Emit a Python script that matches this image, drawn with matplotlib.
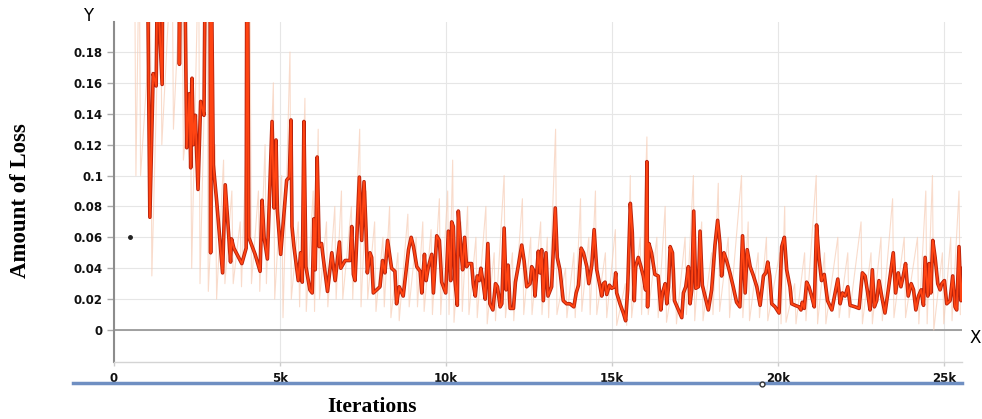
import matplotlib as mpl
mpl.use('Agg')
import matplotlib.pyplot as plt
from matplotlib.lines import Line2D

# smoothed loss, (iteration in thousands, value); values above 0.2 run off the top
smooth_k = [1.00, 1.08, 1.18, 1.27, 1.31, 1.34, 1.45, 1.47, 1.70, 1.96, 1.97, 2.00, 2.12,
            2.19, 2.27, 2.31, 2.35, 2.39, 2.45, 2.53, 2.61, 2.71, 2.75, 2.89, 2.91, 2.93, 2.94,
            2.99, 3.09, 3.27, 3.35, 3.51, 3.54, 3.61, 3.85, 3.98, 4.00, 4.02, 4.06, 4.25, 4.40,
            4.46, 4.52, 4.62, 4.76, 4.82, 4.88, 4.92, 5.02, 5.10, 5.20, 5.28, 5.33, 5.36, 5.42,
            5.55, 5.62, 5.67, 5.72, 5.78, 5.90, 5.97, 6.02, 6.06, 6.12, 6.18, 6.25, 6.30, 6.43,
            6.56, 6.66, 6.79, 6.83, 6.96, 7.11, 7.16, 7.21, 7.26, 7.39, 7.46, 7.53, 7.59, 7.63,
            7.71, 7.76, 7.81, 8.01, 8.09, 8.16, 8.24, 8.36, 8.46, 8.51, 8.59, 8.71, 8.87, 8.95,
            9.02, 9.12, 9.22, 9.27, 9.35, 9.40, 9.47, 9.57, 9.62, 9.72, 9.80, 9.87, 9.99, 10.07,
            10.14, 10.17, 10.22, 10.27, 10.34, 10.37, 10.45, 10.50, 10.56, 10.62, 10.67, 10.77,
            10.82, 10.88, 10.94, 11.00, 11.05, 11.12, 11.18, 11.26, 11.32, 11.41, 11.49, 11.55,
            11.63, 11.68, 11.75, 11.81, 11.87, 11.93, 12.03, 12.09, 12.18, 12.28, 12.35, 12.43,
            12.53, 12.58, 12.63, 12.68, 12.73, 12.78, 12.83, 12.88, 12.93, 13.01, 13.07, 13.18,
            13.29, 13.35, 13.43, 13.53, 13.63, 13.73, 13.85, 13.92, 13.99, 14.07, 14.14, 14.24,
            14.30, 14.39, 14.46, 14.54, 14.64, 14.69, 14.74, 14.79, 14.84, 14.92, 14.99, 15.07,
            15.11, 15.14, 15.24, 15.34, 15.41, 15.47, 15.55, 15.61, 15.67, 15.71, 15.79, 15.87,
            15.94, 16.01, 16.05, 16.07, 16.11, 16.19, 16.29, 16.39, 16.47, 16.52, 16.60, 16.65,
            16.70, 16.75, 16.82, 16.88, 17.00, 17.10, 17.15, 17.22, 17.30, 17.35, 17.40, 17.46,
            17.52, 17.60, 17.65, 17.72, 17.80, 17.90, 18.00, 18.10, 18.18, 18.25, 18.30, 18.37,
            18.45, 18.55, 18.65, 18.75, 18.85, 18.93, 19.01, 19.07, 19.16, 19.26, 19.36, 19.46,
            19.56, 19.63, 19.69, 19.75, 19.81, 19.91, 20.03, 20.11, 20.19, 20.26, 20.36, 20.41,
            20.51, 20.63, 20.69, 20.73, 20.79, 20.86, 20.93, 21.01, 21.09, 21.16, 21.23, 21.31,
            21.39, 21.49, 21.62, 21.72, 21.80, 21.87, 21.94, 22.02, 22.10, 22.17, 22.32, 22.44,
            22.54, 22.62, 22.70, 22.77, 22.84, 22.90, 22.97, 23.04, 23.12, 23.22, 23.32, 23.40,
            23.47, 23.54, 23.62, 23.70, 23.77, 23.84, 23.92, 24.01, 24.08, 24.15, 24.23, 24.31,
            24.38, 24.43, 24.51, 24.55, 24.60, 24.66, 24.73, 24.81, 24.88, 24.93, 25.01, 25.08,
            25.18, 25.26, 25.33, 25.38, 25.45, 25.51, 25.58]
smooth_v = [0.26, 0.073, 0.166, 0.158, 0.24, 0.21, 0.159, 0.25, 0.30, 0.25, 0.172, 0.24, 0.26,
            0.118, 0.153, 0.105, 0.163, 0.120, 0.139, 0.091, 0.148, 0.139, 0.25, 0.25, 0.050, 0.25, 0.22,
            0.107, 0.084, 0.037, 0.094, 0.044, 0.059, 0.053, 0.043, 0.053, 0.25, 0.25, 0.060, 0.049, 0.038,
            0.084, 0.060, 0.046, 0.135, 0.079, 0.123, 0.077, 0.049, 0.070, 0.097, 0.099, 0.136, 0.067, 0.054,
            0.032, 0.050, 0.031, 0.135, 0.041, 0.026, 0.024, 0.072, 0.039, 0.112, 0.054, 0.056, 0.047, 0.025,
            0.050, 0.032, 0.057, 0.040, 0.045, 0.045, 0.067, 0.036, 0.032, 0.099, 0.058, 0.096, 0.065, 0.037,
            0.050, 0.047, 0.024, 0.028, 0.045, 0.037, 0.058, 0.040, 0.038, 0.017, 0.028, 0.022, 0.052, 0.060,
            0.054, 0.041, 0.038, 0.024, 0.049, 0.032, 0.041, 0.049, 0.024, 0.061, 0.058, 0.031, 0.024, 0.064,
            0.032, 0.070, 0.067, 0.032, 0.016, 0.077, 0.052, 0.039, 0.060, 0.041, 0.043, 0.043,
            0.030, 0.022, 0.035, 0.032, 0.040, 0.030, 0.020, 0.056, 0.017, 0.013, 0.030, 0.028,
            0.015, 0.017, 0.066, 0.026, 0.042, 0.014, 0.014, 0.031, 0.042, 0.055, 0.045, 0.028,
            0.030, 0.041, 0.039, 0.022, 0.037, 0.051, 0.037, 0.052, 0.019, 0.050, 0.022, 0.028,
            0.079, 0.047, 0.039, 0.019, 0.017, 0.017, 0.015, 0.024, 0.029, 0.053, 0.050, 0.041,
            0.030, 0.042, 0.065, 0.039, 0.028, 0.022, 0.030, 0.031, 0.023, 0.029, 0.027, 0.028,
            0.037, 0.024, 0.017, 0.011, 0.006, 0.026, 0.082, 0.063, 0.019, 0.041, 0.047, 0.041,
            0.035, 0.026, 0.109, 0.015, 0.056, 0.050, 0.036, 0.035, 0.013, 0.024, 0.030, 0.017,
            0.028, 0.054, 0.050, 0.019, 0.013, 0.008, 0.024, 0.028, 0.041, 0.017, 0.026, 0.077,
            0.027, 0.028, 0.064, 0.029, 0.022, 0.013, 0.026, 0.055, 0.071, 0.056, 0.035, 0.050,
            0.045, 0.037, 0.028, 0.018, 0.015, 0.061, 0.024, 0.052, 0.041, 0.035, 0.028, 0.016,
            0.035, 0.037, 0.044, 0.035, 0.017, 0.015, 0.011, 0.054, 0.060, 0.039, 0.028, 0.017,
            0.016, 0.015, 0.013, 0.018, 0.014, 0.031, 0.028, 0.022, 0.015, 0.068, 0.047, 0.032,
            0.036, 0.019, 0.013, 0.024, 0.033, 0.017, 0.024, 0.022, 0.028, 0.016, 0.015, 0.014,
            0.037, 0.035, 0.024, 0.013, 0.039, 0.015, 0.019, 0.032, 0.022, 0.011, 0.026, 0.039,
            0.050, 0.024, 0.037, 0.028, 0.035, 0.043, 0.022, 0.030, 0.026, 0.013, 0.022, 0.026,
            0.016, 0.047, 0.022, 0.043, 0.024, 0.058, 0.047, 0.030, 0.026, 0.030, 0.032, 0.017,
            0.019, 0.035, 0.015, 0.013, 0.054, 0.019, 0.040]

# raw (unsmoothed) loss, faint spikes behind the smoothed curve
raw_k = [0.62, 0.66, 0.76, 0.80, 1.10, 1.14, 1.40, 1.44, 1.75, 1.79, 2.05, 2.09, 2.30, 2.34,
         2.55, 2.59, 2.80, 2.84, 3.05, 3.09, 3.30, 3.34, 3.55, 3.59, 3.80, 3.84, 4.10, 4.14,
         4.35, 4.39, 4.55, 4.59, 4.80, 4.84, 5.05, 5.09, 5.30, 5.34, 5.55, 5.59, 5.75, 5.79,
         6.00, 6.04, 6.15, 6.19, 6.40, 6.44, 6.65, 6.69, 6.85, 6.89, 7.15, 7.19, 7.40, 7.44,
         7.60, 7.64, 7.85, 7.89, 8.10, 8.14, 8.30, 8.34, 8.55, 8.59, 8.85, 8.89, 9.10, 9.14,
         9.30, 9.34, 9.55, 9.59, 9.80, 9.84, 10.05, 10.09, 10.20, 10.24, 10.45, 10.49, 10.65, 10.69,
         10.90, 10.94, 11.20, 11.24, 11.45, 11.49, 11.75, 11.79, 12.00, 12.04, 12.30, 12.34,
         12.55, 12.59, 12.85, 12.89, 13.05, 13.09, 13.30, 13.34, 13.60, 13.64, 13.85, 13.89,
         14.05, 14.09, 14.30, 14.34, 14.50, 14.54, 14.80, 14.84, 15.10, 15.14, 15.40, 15.44,
         15.55, 15.59, 15.85, 15.89, 16.05, 16.09, 16.35, 16.39, 16.60, 16.64, 16.90, 16.94,
         17.20, 17.24, 17.45, 17.49, 17.70, 17.74, 18.00, 18.04, 18.20, 18.24, 18.50, 18.54,
         18.90, 18.94, 19.10, 19.14, 19.40, 19.44, 19.65, 19.69, 20.05, 20.09, 20.20, 20.24,
         20.50, 20.54, 20.80, 20.84, 21.15, 21.19, 21.40, 21.44, 21.80, 21.84, 22.10, 22.14,
         22.50, 22.54, 22.80, 22.84, 23.10, 23.14, 23.45, 23.49, 23.80, 23.84, 24.20, 24.24,
         24.45, 24.49, 24.65, 24.69, 24.95, 24.99, 25.20, 25.24, 25.45, 25.49]
raw_v = [0.25, 0.10, 0.25, 0.10, 0.20, 0.035, 0.25, 0.12, 0.25, 0.13, 0.25, 0.11, 0.16, 0.04,
         0.25, 0.03, 0.22, 0.025, 0.12, 0.02, 0.11, 0.03, 0.09, 0.03, 0.07, 0.028, 0.20, 0.03,
         0.09, 0.025, 0.12, 0.03, 0.16, 0.02, 0.10, 0.008, 0.18, 0.02, 0.07, 0.015, 0.15, 0.012,
         0.09, 0.012, 0.13, 0.02, 0.07, 0.015, 0.08, 0.02, 0.09, 0.02, 0.08, 0.02, 0.13, 0.015,
         0.09, 0.02, 0.07, 0.012, 0.06, 0.015, 0.08, 0.008, 0.05, 0.006, 0.075, 0.015, 0.06, 0.015,
         0.07, 0.012, 0.065, 0.01, 0.085, 0.01, 0.09, 0.01, 0.11, 0.005, 0.07, 0.012, 0.08, 0.01,
         0.06, 0.008, 0.08, 0.004, 0.05, 0.006, 0.10, 0.008, 0.05, 0.006, 0.085, 0.01,
         0.06, 0.01, 0.07, 0.01, 0.06, 0.008, 0.13, 0.01, 0.04, 0.008, 0.05, 0.008,
         0.085, 0.012, 0.06, 0.01, 0.09, 0.01, 0.05, 0.008, 0.065, 0.003, 0.03, 0.003,
         0.10, 0.008, 0.06, 0.01, 0.125, 0.01, 0.06, 0.008, 0.08, 0.005, 0.04, 0.004,
         0.06, 0.01, 0.10, 0.006, 0.07, 0.006, 0.05, 0.01, 0.095, 0.012, 0.06, 0.008,
         0.10, 0.008, 0.07, 0.006, 0.05, 0.008, 0.06, 0.006, 0.05, 0.004, 0.08, 0.005,
         0.03, 0.004, 0.05, 0.006, 0.10, 0.004, 0.05, 0.004, 0.06, 0.008, 0.05, 0.008,
         0.07, 0.004, 0.05, 0.004, 0.06, 0.006, 0.085, 0.008, 0.06, 0.008, 0.06, 0.004,
         0.09, 0.004, 0.10, 0.0, 0.05, 0.004, 0.06, 0.006, 0.09, 0.01]

dot_k = [0.48]
dot_v = [0.06]

ytick_vals = [0, 0.02, 0.04, 0.06, 0.08, 0.1, 0.12, 0.14, 0.16, 0.18]
ytick_labels = ['0', '0.02', '0.04', '0.06', '0.08', '0.1', '0.12', '0.14', '0.16', '0.18']
xtick_vals = [0, 5000, 10000, 15000, 20000, 25000]
xtick_labels = ['0', '5k', '10k', '15k', '20k', '25k']

W, H = 982, 419
fig = plt.figure(figsize=(W / 100, H / 100), dpi=100)
ax = fig.add_axes([114 / W, 1 - 362 / H, 848 / W, 340 / H])

sx = [k * 1000 for k in smooth_k]
rx = [k * 1000 for k in raw_k]
ax.plot(rx, raw_v, color='#f7cdb6', lw=0.8, alpha=0.7, zorder=2)
ax.plot(sx, smooth_v, color='#b8220c', lw=2.6, zorder=3)
ax.plot(sx, smooth_v, color='#ff4412', lw=1.3, zorder=4)
ax.plot([k * 1000 for k in dot_k], dot_v, 'o', ms=2.5, color='#222222', zorder=5)

ax.set_xlim(0, 25540)
ax.set_ylim(-0.0207, 0.1994)
ax.axhline(0, color='#9a9a9a', lw=1.3, zorder=1)

ax.set_yticks(ytick_vals)
ax.set_yticklabels(ytick_labels, fontsize=8.5, fontweight='bold', color='#111111')
ax.set_xticks(xtick_vals)
ax.set_xticklabels(xtick_labels, fontsize=8.5, fontweight='bold', color='#111111')
ax.tick_params(axis='y', length=5, width=1, color='#aaaaaa', pad=3)
ax.tick_params(axis='x', length=3, width=1, color='#cccccc', pad=4)

ax.grid(True, color='#e6e6e6', lw=0.8, zorder=0)
ax.set_axisbelow(True)
for s in ['top', 'right']:
    ax.spines[s].set_visible(False)
ax.spines['left'].set_color('#8c8c8c')
ax.spines['left'].set_linewidth(1.5)
ax.spines['bottom'].set_color('#d4d4d4')
ax.spines['bottom'].set_linewidth(1.0)

fig.text(88 / W, 1 - 16 / H, 'Y', fontsize=12, ha='center', va='center')
fig.text(975 / W, 1 - 338 / H, 'X', fontsize=12, ha='center', va='center')

# blue rule under the x tick labels
fig.add_artist(Line2D([73 / W, 962 / W], [1 - 383 / H, 1 - 383 / H],
                      color='#6f8fc2', lw=2.5, transform=fig.transFigure))
fig.add_artist(Line2D([762 / W], [1 - 384 / H], marker='o', ms=3.5, mfc='white',
                      mec='#333333', mew=1, transform=fig.transFigure))

fig.text(21 / W, 1 - 201 / H, 'Amount of Loss', rotation=90, ha='center', va='center',
         family='Liberation Serif', fontweight='bold', fontsize=16.5)
fig.text(372 / W, 1 - 407 / H, 'Iterations', ha='center', va='center',
         family='Liberation Serif', fontweight='bold', fontsize=15.5)

plt.savefig('out.png', dpi=100)
